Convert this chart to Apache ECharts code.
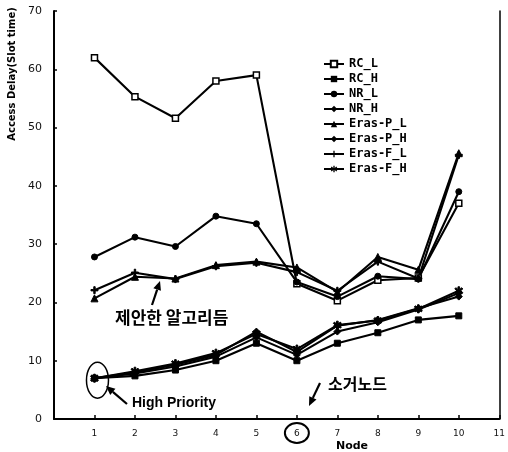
<!DOCTYPE html>
<html>
<head>
<meta charset="utf-8">
<script src="https://cdn.jsdelivr.net/npm/echarts@6/dist/echarts.min.js"></script>
<style>
  html, body { margin: 0; padding: 0; background: #fff; }
  #chart { width: 508px; height: 452px; }
</style>
</head>
<body>
<div id="chart"></div>
<script>
// Node numbers along the x axis
const nodes = [1, 2, 3, 4, 5, 6, 7, 8, 9, 10];
const xTicks = [1, 2, 3, 4, 5, 6, 7, 8, 9, 10, 11];
const yTicks = [0, 10, 20, 30, 40, 50, 60, 70];

// Access delay (slot time) per node, low priority traffic
const rcL    = [62.0, 55.3, 51.6, 58.0, 59.0, 23.2, 20.3, 23.8, 24.2, 37.0];
const nrL    = [27.8, 31.2, 29.6, 34.8, 33.5, 23.5, 21.0, 24.5, 24.0, 39.0];
const erasPL = [20.7, 24.4, 24.1, 26.4, 27.0, 26.0, 21.8, 27.8, 25.6, 45.6];
const erasFL = [22.1, 25.1, 24.0, 26.2, 26.8, 25.2, 22.0, 27.0, 24.1, 45.3];

// Access delay (slot time) per node, high priority traffic
const rcH    = [7.0, 7.4, 8.4, 10.0, 13.0, 10.0, 13.0, 14.8, 17.0, 17.7];
const nrH    = [7.0, 7.8, 9.0, 10.7, 14.0, 11.0, 15.0, 16.6, 18.8, 21.6];
const erasPH = [7.0, 8.0, 9.3, 11.0, 15.0, 11.5, 16.0, 17.0, 19.0, 21.0];
const erasFH = [7.0, 8.2, 9.5, 11.3, 14.6, 12.0, 16.1, 16.9, 18.9, 22.0];

const pairs = vals => nodes.map((n, i) => [n, vals[i]]);

const plusPath = 'path://M4,0H6V4H10V6H6V10H4V6H0V4H4Z';
const starPath = 'path://M4,0H6V3.3L8.6,1.2L9.8,2.8L7.2,5L9.8,7.2L8.6,8.8L6,6.7V10H4V6.7L1.4,8.8L0.2,7.2L2.8,5L0.2,2.8L1.4,1.2L4,3.3Z';

function line(name, vals, symbol, size, hollow) {
  return {
    name, type: 'line', data: pairs(vals),
    symbol, symbolSize: size, showSymbol: true,
    lineStyle: { color: '#000', width: 2.1 },
    itemStyle: hollow
      ? { color: '#fff', borderColor: '#000', borderWidth: 1.5 }
      : { color: '#000', borderColor: '#000' },
    z: 3
  };
}

const chart = echarts.init(document.getElementById('chart'), null, { renderer: 'canvas' });

const labelFont = 'DejaVu Sans';

chart.setOption({
  animation: false,
  backgroundColor: '#fff',
  grid: { left: 54, right: 5, top: 11, bottom: 33 },
  legend: {
    orient: 'vertical',
    left: 318, top: 53,
    itemWidth: 20, itemHeight: 8, itemGap: 3,
    textStyle: { fontFamily: 'DejaVu Sans Mono', fontWeight: 'bold', fontSize: 12, color: '#000', lineHeight: 12 },
    data: ['RC_L', 'RC_H', 'NR_L', 'NR_H', 'Eras-P_L', 'Eras-P_H', 'Eras-F_L', 'Eras-F_H']
  },
  xAxis: {
    type: 'value', min: 0, max: 11, interval: 1,
    axisLine: { lineStyle: { color: '#000', width: 2 } },
    axisTick: { inside: true, length: 4, lineStyle: { color: '#000', width: 1.5 } },
    splitLine: { show: false },
    axisLabel: {
      color: '#111', fontFamily: labelFont, fontSize: 9, margin: 10,
      formatter: v => (xTicks.includes(v) ? String(v) : '')
    }
  },
  yAxis: [{
    type: 'value', min: 0, max: 70, interval: 10,
    axisLine: { show: true, lineStyle: { color: '#000', width: 2 } },
    axisTick: { show: true, inside: true, length: 3, lineStyle: { color: '#000', width: 1.5 } },
    splitLine: { show: false },
    axisLabel: {
      color: '#111', fontFamily: labelFont, fontSize: 11, margin: 12,
      formatter: v => (yTicks.includes(v) ? String(v) : '')
    }
  }, {
    type: 'value', min: 0, max: 70, interval: 10, position: 'right',
    axisLine: { show: true, lineStyle: { color: '#000', width: 1.5 } },
    axisTick: { show: false }, axisLabel: { show: false }, splitLine: { show: false }
  }],
  series: [
    line('RC_L', rcL, 'rect', 6, true),
    line('RC_H', rcH, 'rect', 6, false),
    line('NR_L', nrL, 'circle', 6, false),
    line('NR_H', nrH, 'diamond', 7, false),
    line('Eras-P_L', erasPL, 'triangle', 7, false),
    line('Eras-P_H', erasPH, 'diamond', 7, false),
    line('Eras-F_L', erasFL, plusPath, 7, false),
    line('Eras-F_H', erasFH, starPath, 8, false)
  ]
});

// Annotation helpers
function arrow(x1, y1, x2, y2) {
  const ang = Math.atan2(y2 - y1, x2 - x1);
  const L = 9, W = 4;
  const bx = x2 - L * Math.cos(ang), by = y2 - L * Math.sin(ang);
  const px = -Math.sin(ang) * W, py = Math.cos(ang) * W;
  return [
    { type: 'line', shape: { x1, y1, x2: bx, y2: by }, style: { stroke: '#000', lineWidth: 2.2 }, z: 10 },
    { type: 'polygon', shape: { points: [[x2, y2], [bx + px, by + py], [bx - px, by - py]] }, style: { fill: '#000' }, z: 10 }
  ];
}

const p1 = chart.convertToPixel({ gridIndex: 0 }, [1, rcH[0]]);
const x6 = chart.convertToPixel({ xAxisIndex: 0 }, 6);

chart.setOption({
  graphic: [
    {
      type: 'text', x: 12, y: 74, rotation: Math.PI / 2,
      style: { text: 'Access Delay(Slot time)', align: 'center', verticalAlign: 'middle',
               font: 'bold 10px "DejaVu Sans"', fill: '#000' }
    },
    {
      type: 'text', x: 352, y: 446,
      style: { text: 'Node', align: 'center', verticalAlign: 'middle',
               font: 'bold 11px "DejaVu Sans"', fill: '#000' }
    },
    {
      type: 'text', x: 115, y: 318,
      style: { text: '제안한 알고리듬', align: 'left', verticalAlign: 'middle',
               font: 'bold 17px "Noto Sans CJK KR"', fill: '#000' }
    },
    {
      type: 'text', x: 132, y: 403,
      style: { text: 'High Priority', align: 'left', verticalAlign: 'middle',
               font: 'bold 14px "Liberation Sans"', fill: '#000' }
    },
    {
      type: 'text', x: 328, y: 384,
      style: { text: '소거노드', align: 'left', verticalAlign: 'middle',
               font: 'bold 16px "Noto Sans CJK KR"', fill: '#000' }
    },
    {
      type: 'ellipse', shape: { cx: p1[0] + 3, cy: p1[1] + 2, rx: 11, ry: 18 },
      style: { fill: 'none', stroke: '#000', lineWidth: 1.5 }, z: 10
    },
    {
      type: 'ellipse', shape: { cx: x6, cy: 433, rx: 12, ry: 10 },
      style: { fill: 'none', stroke: '#000', lineWidth: 2 }, z: 10
    },
    ...arrow(152, 305, 160, 281),
    ...arrow(127, 404, 106, 386),
    ...arrow(320, 383, 309, 406)
  ]
});
</script>
</body>
</html>
